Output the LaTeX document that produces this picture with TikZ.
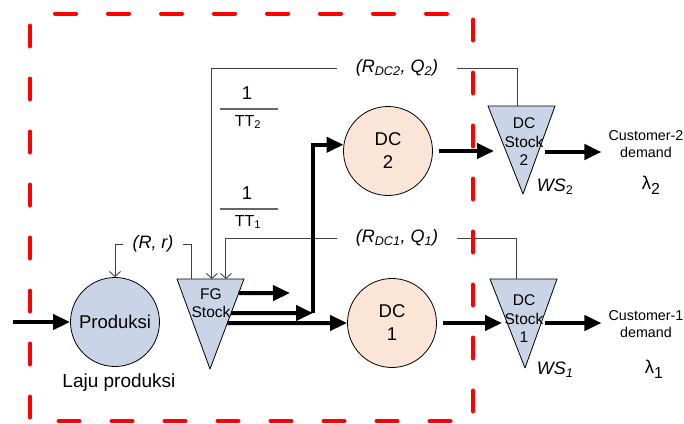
\documentclass[tikz,border=0pt]{standalone}
\usepackage{fontspec}
\setmainfont{Liberation Sans}
\usetikzlibrary{positioning, arrows.meta, calc}
\definecolor{Prod_Blue}{HTML}{C9D5E6}
\definecolor{DC_Peach}{HTML}{FBE5D6}
\definecolor{Box_Red}{HTML}{FF0000}
\definecolor{Line_Grey}{HTML}{404040}

\begin{document}
\begin{tikzpicture}[x=1pt, y=-1pt,
  every node/.style={font=\fontsize{18.5}{23}\selectfont, inner sep=0pt},
  flow/.style={-{Triangle[length=17pt, width=15pt]}, line width=4pt},
  fb/.style={-{Straight Barb[length=5pt, width=11pt]}, Line_Grey, line width=0.9pt},
  fbline/.style={Line_Grey, line width=0.9pt},
  proc/.style={circle, draw, line width=0.8pt, fill=#1, minimum size=89pt, align=center},
  proc/.default={Prod_Blue},
  stock/.style={draw, line width=0.8pt, fill=Prod_Blue, line join=round},
  stocktext/.style={align=center, font=\fontsize{15.5}{18.5}\selectfont},
  param/.style={font=\fontsize{18}{20}\selectfont\itshape},
  cust/.style={align=center, font=\fontsize{14.3}{17.5}\selectfont}
]
  \useasboundingbox (0,0) rectangle (684,423);

  % Production
  \node[proc] (prod) at (115,322) {Produksi};
  \node[font=\fontsize{19}{20}\selectfont] (laju) at (119,383) {Laju produksi};
  \coordinate (src) at (13,322);
  \draw[flow] (src) -- (prod.west);

  % FG stock
  \coordinate (fgL) at (177,279);
  \coordinate (fgR) at (244,279);
  \coordinate (fgB) at (210,369);
  \draw[stock] (fgL) -- (fgR) -- (fgB) -- cycle;
  \node[stocktext] (fg) at (211,303) {FG\\Stock};

  % Distribution centres
  \node[proc=DC_Peach] (dc2) at (388,151) {DC\\2};
  \node[proc=DC_Peach] (dc1) at (392,323) {DC\\1};

  % DC stocks
  \coordinate (ws2L) at (488,106);
  \coordinate (ws2R) at (555,106);
  \coordinate (ws2B) at (523,194);
  \draw[stock] (ws2L) -- (ws2R) -- (ws2B) -- cycle;
  \node[stocktext] (ws2) at (524,142) {DC\\Stock\\2};
  \node[param] (ws2lbl) at (555,187) {WS\textsubscript{\upshape 2}};
  \coordinate (ws1L) at (490,279);
  \coordinate (ws1R) at (557,279);
  \coordinate (ws1B) at (525,368);
  \draw[stock] (ws1L) -- (ws1R) -- (ws1B) -- cycle;
  \node[stocktext] (ws1) at (524,319) {DC\\Stock\\1};
  \node[param] (ws1lbl) at (555,370) {WS\textsubscript{1}};

  % Customers
  \node[cust] (cust2) at (646,144) {Customer-2\\demand};
  \node (lam2) at (651,185) {λ\raisebox{-5pt}{\fontsize{16}{16}\selectfont 2}};
  \node[cust] (cust1) at (646,324) {Customer-1\\demand};
  \node (lam1) at (654,369) {λ\raisebox{-5pt}{\fontsize{16}{16}\selectfont 1}};

  % Transport times
  \node (one2) at (247,93) {1};
  \node[font=\fontsize{16}{18}\selectfont] (tt2) at (248,122) {TT\textsubscript{2}};
  \draw[Line_Grey!80, line width=1.2pt] (220,109) -- (278,109);
  \node (one1) at (247,193) {1};
  \node[font=\fontsize{16}{18}\selectfont] (tt1) at (248,222) {TT\textsubscript{1}};
  \draw[Line_Grey!80, line width=1.2pt] (220,209) -- (278,209);

  % Reorder feedback
  \node[param, inner xsep=9pt] (rr) at (153,244) {(R, r)};
  \draw[fb] (rr.west) -| (prod.north);
  \draw[fbline] (rr.east) -| ($(fgL)!0.21!(fgR)$);
  \node[param, inner xsep=19pt] (q2) at (397,68) {(R\textsubscript{DC2}, Q\textsubscript{2})};
  \draw[fb] (q2.west) -| ($(fgL)!0.52!(fgR)$);
  \draw[fbline] (q2.east) -| ($(ws2L)!0.433!(ws2R)$);
  \node[param, inner xsep=19pt] (q1) at (397,238) {(R\textsubscript{DC1}, Q\textsubscript{1})};
  \draw[fb] (q1.west) -| ($(fgL)!0.73!(fgR)$);
  \draw[fbline] (q1.east) -| ($(ws1L)!0.40!(ws1R)$);

  % Flows out of FG stock
  \coordinate (fgout) at (290,293);
  \coordinate (split) at (313,313);
  \draw[flow] ($(fgR)!0.157!(fgB)$) -- (fgout);
  \draw[flow] ($(fgR)!0.378!(fgB)$) -- (split);
  \draw[flow] (split) |- (dc2.172);
  \draw[flow] ($(fgR)!0.489!(fgB)$) -- (dc1.west);

  % Flows to DC stocks and customers
  \coordinate (ws2in) at (494,151);
  \coordinate (ws1in) at (502,323);
  \draw[flow] ([xshift=6pt]dc2.east) -- (ws2in);
  \draw[flow] ([xshift=6pt]dc1.east) -- (ws1in);
  \coordinate (ws2out) at (545,152);
  \coordinate (ws1out) at (545,323);
  \coordinate (cust2in) at ($(cust2.west)+(-7,0)$);
  \coordinate (cust1in) at ($(cust1.west)+(-7,0)$);
  \draw[flow] (ws2out) -- (ws2out -| cust2in);
  \draw[flow] (ws1out) -- (ws1out -| cust1in);

  % System boundary
  \draw[Box_Red, line width=4pt, line cap=round, dash pattern=on 21pt off 32pt, dash phase=-12pt]
    (30,13.5) rectangle (473,421);
\end{tikzpicture}
\end{document}
